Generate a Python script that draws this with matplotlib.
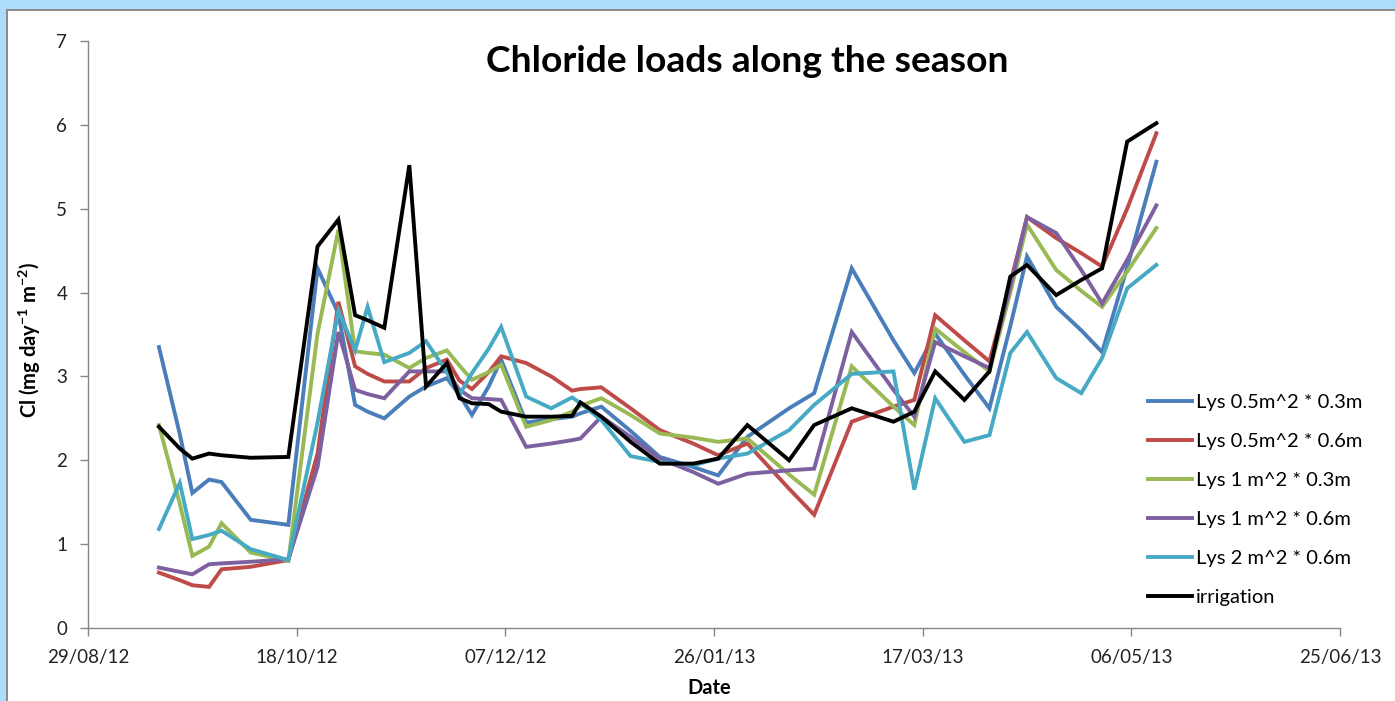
import numpy as np
import pandas as pd
import matplotlib
matplotlib.use("Agg")
import matplotlib.pyplot as pp
import matplotlib.dates as mdates
from matplotlib.patches import Rectangle

TITLE   = "Chloride loads along the season"
X_LABEL = "Date"
Y_LABEL = "Cl (mg day$^{-1}$ m$^{-2}$)"

DATES = ["2012-09-15", "2012-09-20", "2012-09-23", "2012-09-27", "2012-09-30", "2012-10-07",
         "2012-10-16", "2012-10-23", "2012-10-28", "2012-11-01", "2012-11-04", "2012-11-08",
         "2012-11-14", "2012-11-18", "2012-11-23", "2012-11-26", "2012-11-29", "2012-12-03",
         "2012-12-06", "2012-12-12", "2012-12-18", "2012-12-23", "2012-12-25", "2012-12-30",
         "2013-01-06", "2013-01-13", "2013-01-21", "2013-01-27", "2013-02-03", "2013-02-13",
         "2013-02-19", "2013-02-28", "2013-03-10", "2013-03-15", "2013-03-20", "2013-03-27",
         "2013-04-02", "2013-04-07", "2013-04-11", "2013-04-18", "2013-04-24", "2013-04-29",
         "2013-05-05", "2013-05-12"]

LYS_05_03 = [3.35, 2.31, 1.61, 1.77, 1.74, 1.29, 1.23, 4.29, 3.75, 2.66, 2.58, 2.50, 2.76, 2.88,
             2.98, 2.78, 2.54, 2.88, 3.20, 2.45, 2.49, 2.52, 2.56, 2.64, 2.35, 2.04, 1.92, 1.82,
             2.28, 2.62, 2.80, 4.29, 3.43, 3.04, 3.51, 3.02, 2.62, 3.60, 4.43, 3.83, 3.55, 3.29,
             4.30, 5.56]
LYS_05_06 = [0.66, 0.57, 0.51, 0.49, 0.70, 0.73, 0.81, 2.08, 3.89, 3.12, 3.03, 2.94, 2.94, 3.10,
             3.20, 2.95, 2.85, 3.05, 3.24, 3.16, 3.00, 2.83, 2.85, 2.87, 2.62, 2.36, 2.20, 2.06,
             2.20, 1.66, 1.35, 2.46, 2.64, 2.72, 3.73, 3.43, 3.18, 4.11, 4.90, 4.65, 4.47, 4.31,
             5.00, 5.90]
LYS_1_03  = [2.42, 1.48, 0.86, 0.97, 1.25, 0.90, 0.80, 3.51, 4.75, 3.30, 3.28, 3.26, 3.10, 3.22,
             3.31, 3.13, 2.96, 3.05, 3.14, 2.40, 2.48, 2.58, 2.65, 2.74, 2.54, 2.32, 2.27, 2.22,
             2.26, 1.83, 1.59, 3.12, 2.64, 2.42, 3.57, 3.29, 3.06, 4.00, 4.81, 4.27, 4.02, 3.83,
             4.25, 4.77]
LYS_1_06  = [0.72, 0.67, 0.64, 0.76, 0.77, 0.79, 0.82, 1.92, 3.53, 2.84, 2.79, 2.74, 3.06, 3.06,
             3.06, 2.84, 2.74, 2.73, 2.72, 2.16, 2.20, 2.24, 2.26, 2.52, 2.28, 2.02, 1.86, 1.72,
             1.84, 1.88, 1.90, 3.53, 2.84, 2.52, 3.41, 3.24, 3.10, 4.07, 4.90, 4.71, 4.27, 3.87,
             4.39, 5.04]
LYS_2_06  = [1.18, 1.73, 1.06, 1.11, 1.16, 0.94, 0.81, 2.45, 3.79, 3.31, 3.83, 3.17, 3.28, 3.42,
             3.05, 2.78, 3.04, 3.33, 3.59, 2.76, 2.62, 2.75, 2.68, 2.48, 2.05, 1.98, 1.94, 2.02,
             2.08, 2.36, 2.66, 3.03, 3.06, 1.65, 2.74, 2.22, 2.30, 3.28, 3.53, 2.98, 2.80, 3.22,
             4.05, 4.33]
IRRIGATION = [2.40, 2.14, 2.02, 2.08, 2.06, 2.03, 2.04, 4.55, 4.87, 3.73, 3.67, 3.58, 5.52, 2.88,
              3.16, 2.74, 2.68, 2.67, 2.58, 2.52, 2.52, 2.53, 2.69, 2.52, 2.22, 1.96, 1.96, 2.02,
              2.42, 2.00, 2.42, 2.62, 2.46, 2.58, 3.06, 2.72, 3.06, 4.19, 4.33, 3.97, 4.15, 4.29,
              5.80, 6.02]

SERIES_NAMES = ["Lys 0.5m^2 * 0.3m", "Lys 0.5m^2 * 0.6m", "Lys 1 m^2 * 0.3m",
                "Lys 1 m^2 * 0.6m", "Lys 2 m^2 * 0.6m", "irrigation"]
COLORS = ["#4a7ebb", "#be4b48", "#98b954", "#7d60a0", "#46aac5", "#000000"]

X_START = "2012-08-29"
X_END   = "2013-06-25"

W, H = 1395, 701


def main():
  pp.rcParams["font.family"] = ["Lato", "DejaVu Sans"]
  pp.rcParams["mathtext.fontset"] = "custom"
  pp.rcParams["mathtext.rm"] = "Lato"
  pp.rcParams["mathtext.bf"] = "Lato:bold"
  pp.rcParams["mathtext.default"] = "bf"

  xs = pd.to_datetime(DATES)
  ys_all = [LYS_05_03, LYS_05_06, LYS_1_03, LYS_1_06, LYS_2_06, IRRIGATION]

  fig = pp.figure(figsize=(W / 100, H / 100), dpi=100)
  fig.patch.set_facecolor("white")

  # excel-like window frame (light blue strip + grey border)
  fig.patches.append(Rectangle((0, 1 - 9 / H), 1, 9 / H, transform=fig.transFigure,
                               facecolor="#aedcfb", edgecolor="none", zorder=0))
  fig.patches.append(Rectangle((0, 0), 6 / W, 1, transform=fig.transFigure,
                               facecolor="#aedcfb", edgecolor="none", zorder=0))
  fig.patches.append(Rectangle((6 / W, 1 - 11 / H), 1, 2 / H, transform=fig.transFigure,
                               facecolor="#8c8c8c", edgecolor="none", zorder=1))
  fig.patches.append(Rectangle((6 / W, 0), 2 / W, 1 - 9 / H, transform=fig.transFigure,
                               facecolor="#8c8c8c", edgecolor="none", zorder=1))

  ax = fig.add_axes([88 / W, (H - 628) / H, (1340 - 88) / W, (628 - 41) / H])

  for name, ys, c in zip(SERIES_NAMES, ys_all, COLORS):
    ax.plot(xs, ys, color=c, linewidth=2.8, label=name, solid_joinstyle="miter")

  ax.set_ylim(0, 7)
  ax.set_yticks(range(0, 8))
  ax.set_xlim(pd.Timestamp(X_START), pd.Timestamp(X_END))
  xticks = pd.date_range(X_START, X_END, freq="50D")
  ax.set_xticks(xticks)
  ax.xaxis.set_major_formatter(mdates.DateFormatter("%d/%m/%y"))

  for s in ["top", "right"]:
    ax.spines[s].set_visible(False)
  for s in ["left", "bottom"]:
    ax.spines[s].set_color("#868686")
    ax.spines[s].set_linewidth(1.0)
  ax.tick_params(direction="out", length=6, width=1.0, color="#868686",
                 labelsize=13.5, labelcolor="#222222")
  ax.tick_params(axis="y", pad=9)
  ax.tick_params(axis="x", pad=9)

  ax.set_xlabel(X_LABEL, fontsize=14.5, fontweight="bold")
  ax.xaxis.set_label_coords((709 - 88) / 1252, (628 - 678) / 587)
  ax.set_ylabel(Y_LABEL, fontsize=14.5, fontweight="bold")
  ax.yaxis.set_label_coords((43 - 88) / 1252, (628 - 340) / 587)

  fig.text(747 / W, 1 - 62 / H, TITLE, ha="center", va="center",
           fontsize=26.8, fontweight="bold")

  ax.legend(loc="center left", bbox_to_anchor=(1148 / W, 1 - 500 / H),
            bbox_transform=fig.transFigure, frameon=False, fontsize=14.5,
            handlelength=2.2, handletextpad=0.2, labelspacing=1.08,
            borderpad=0, borderaxespad=0)

  pp.savefig("out.png", dpi=100)


if __name__ == "__main__":
  main()
